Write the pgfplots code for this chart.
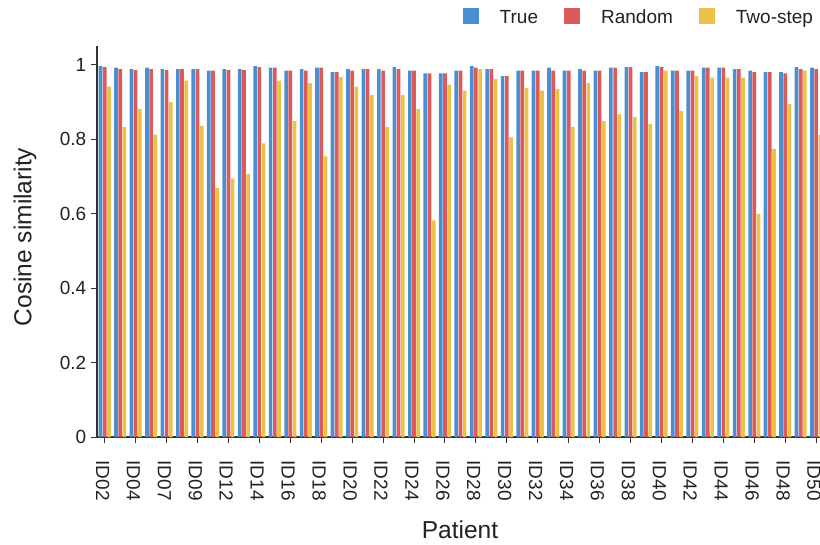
\documentclass[border=0pt]{standalone}
\usepackage{pgfplots}
\pgfplotsset{compat=1.18}
\usepackage{pgfplotstable}
\usepackage{fontspec}
\setmainfont{Liberation Sans}
\usetikzlibrary{calc}
\definecolor{cblue}{HTML}{4A8FD2}
\definecolor{cred}{HTML}{DC5A5A}
\definecolor{cyel}{HTML}{ECC246}
\definecolor{axgray}{HTML}{333333}
\definecolor{txtgray}{HTML}{222222}
\pgfplotstableread{
idx true  random twostep
0  0.997 0.994 0.942
1  0.993 0.989 0.833
2  0.989 0.986 0.881
3  0.993 0.989 0.813
4  0.989 0.986 0.900
5  0.989 0.989 0.958
6  0.989 0.989 0.837
7  0.985 0.985 0.669
8  0.989 0.986 0.695
9  0.989 0.986 0.707
10 0.997 0.994 0.789
11 0.993 0.993 0.958
12 0.985 0.985 0.849
13 0.989 0.985 0.951
14 0.993 0.993 0.754
15 0.981 0.981 0.967
16 0.989 0.985 0.942
17 0.989 0.989 0.919
18 0.989 0.985 0.833
19 0.994 0.989 0.919
20 0.985 0.985 0.881
21 0.977 0.977 0.582
22 0.977 0.977 0.947
23 0.985 0.985 0.931
24 0.997 0.993 0.989
25 0.989 0.989 0.962
26 0.970 0.970 0.805
27 0.985 0.985 0.938
28 0.985 0.985 0.931
29 0.993 0.985 0.935
30 0.985 0.985 0.833
31 0.989 0.985 0.951
32 0.985 0.985 0.849
33 0.993 0.993 0.867
34 0.994 0.994 0.860
35 0.981 0.981 0.841
36 0.997 0.994 0.985
37 0.985 0.985 0.876
38 0.985 0.985 0.970
39 0.993 0.993 0.966
40 0.993 0.993 0.966
41 0.989 0.989 0.966
42 0.985 0.981 0.599
43 0.981 0.981 0.774
44 0.981 0.977 0.895
45 0.994 0.989 0.985
46 0.993 0.989 0.812
}\datatable
\begin{document}
\begin{tikzpicture}
\begin{axis}[
  scale only axis,
  width=542.25pt, height=293pt,
  xmin=-0.5, xmax=46.25, ymin=0, ymax=1.05,
  axis x line*=bottom, axis y line*=left,
  axis line style={axgray, line width=0.9pt},
  every tick/.style={axgray, line width=0.75pt},
  tick align=outside,
  major tick length=4.5pt,
  xtick={0,2,...,46},
  xticklabels={ID02,ID04,ID07,ID09,ID12,ID14,ID16,ID18,ID20,ID22,ID24,ID26,ID28,ID30,ID32,ID34,ID36,ID38,ID40,ID42,ID44,ID46,ID48,ID50},
  ytick={0,0.2,0.4,0.6,0.8,1},
  /pgf/number format/assume math mode=true,
  tick label style={font=\fontsize{14.25}{16}\selectfont, text=txtgray},
  xticklabel style={inner sep=0pt, xshift=-1.6pt, yshift=-13pt, rotate=-90, anchor=west},
  xlabel={Patient},
  ylabel={Cosine similarity},
  label style={font=\fontsize{18.4}{21}\selectfont, text=txtgray},
  xlabel style={at={(axis description cs:0.502,-0.238)}, anchor=center},
  ylabel style={at={(axis description cs:-0.0996,0.512)}, anchor=center},
  legend style={draw=none, fill=none, inner sep=0pt, outer sep=0pt,
    legend columns=3,
    at={(axis description cs:1,1)}, anchor=south east,
    xshift=-5.25pt, yshift=16.45pt,
    font=\fontsize{14.25}{16}\selectfont, text=txtgray,
    nodes={inner sep=0pt, text height=10.2pt, text depth=0pt},
    /tikz/every odd column/.append style={column sep=15.75pt},
    /tikz/every even column/.append style={column sep=19.5pt}},
]
\addplot[ybar, bar width=2.75pt, bar shift=-3.15pt, fill=cblue, draw=none,
  legend image code/.code={\fill[cblue] (0pt,-6pt) rectangle (12pt,6pt);}]
  table[x=idx, y=true]{\datatable};
\addplot[ybar, bar width=2.75pt, bar shift=0pt, fill=cred, draw=none,
  legend image code/.code={\fill[cred] (0pt,-6pt) rectangle (12pt,6pt);}]
  table[x=idx, y=random]{\datatable};
\addplot[ybar, bar width=2.75pt, bar shift=3.15pt, fill=cyel, draw=none,
  legend image code/.code={\fill[cyel] (0pt,-6pt) rectangle (12pt,6pt);}]
  table[x=idx, y=twostep]{\datatable};
\legend{True, Random, Two-step}
\end{axis}
\pgfresetboundingbox
\path ($(current axis.south west)+(-72.75pt,-80.25pt)$) rectangle ++(615pt,408pt);
\end{tikzpicture}
\end{document}
